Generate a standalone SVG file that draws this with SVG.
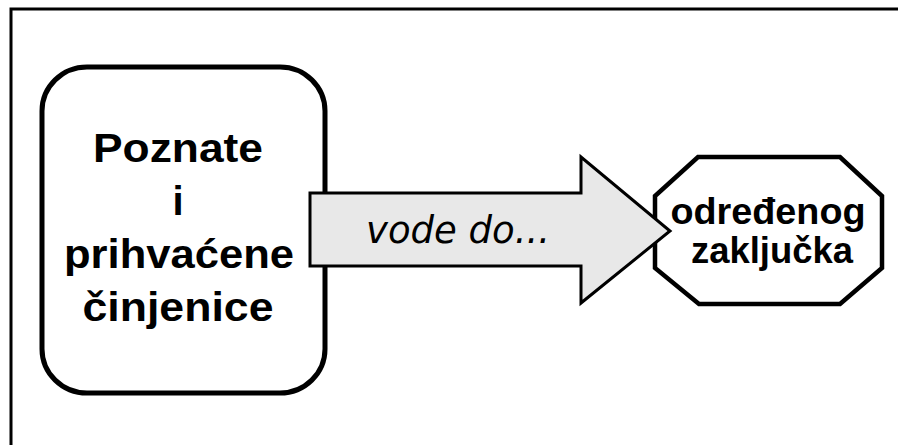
<svg xmlns="http://www.w3.org/2000/svg" width="898" height="445" viewBox="0 0 898 445">
<style>
.shape{stroke:#000;stroke-linejoin:miter}
.bold{font-family:"Liberation Sans",Arial,sans-serif;font-weight:bold;fill:#000;text-anchor:middle}
.ital{font-family:"DejaVu Sans",Verdana,sans-serif;font-style:italic;fill:#000}
</style>
<rect width="898" height="445" fill="#fff"/>
<path d="M11,445 V9 H898" fill="none" stroke="#000" stroke-width="3"/>
<g id="node-facts">
<rect class="shape" x="42" y="67" width="283" height="326" rx="45" ry="44" fill="#fff" stroke-width="5"/>
<text class="bold" font-size="40" x="178" y="162" textLength="170" lengthAdjust="spacingAndGlyphs">Poznate</text>
<text class="bold" font-size="40" x="178" y="215">i</text>
<text class="bold" font-size="40" x="179" y="268" textLength="230" lengthAdjust="spacingAndGlyphs">prihvaćene</text>
<text class="bold" font-size="40" x="178" y="321" textLength="191" lengthAdjust="spacingAndGlyphs">činjenice</text>
</g>
<g id="node-conclusion">
<polygon class="shape" points="698,157 840,157 882,196 882,268 840,304 699,304 655,268 655,196" fill="#fff" stroke-width="4.5"/>
</g>
<g id="connectors">
<polygon class="shape" points="310,193 581,193 581,157 670,231 581,303 581,266 310,266" fill="#e8e8e8" stroke-width="3"/>
<text class="ital" font-size="37" x="366" y="243">vode do...</text>
</g>
<g id="node-conclusion-label">
<text class="bold" font-size="36" x="768" y="224" textLength="195" lengthAdjust="spacingAndGlyphs">određenog</text>
<text class="bold" font-size="36" x="772" y="263" textLength="162" lengthAdjust="spacingAndGlyphs">zaključka</text>
</g>
</svg>
